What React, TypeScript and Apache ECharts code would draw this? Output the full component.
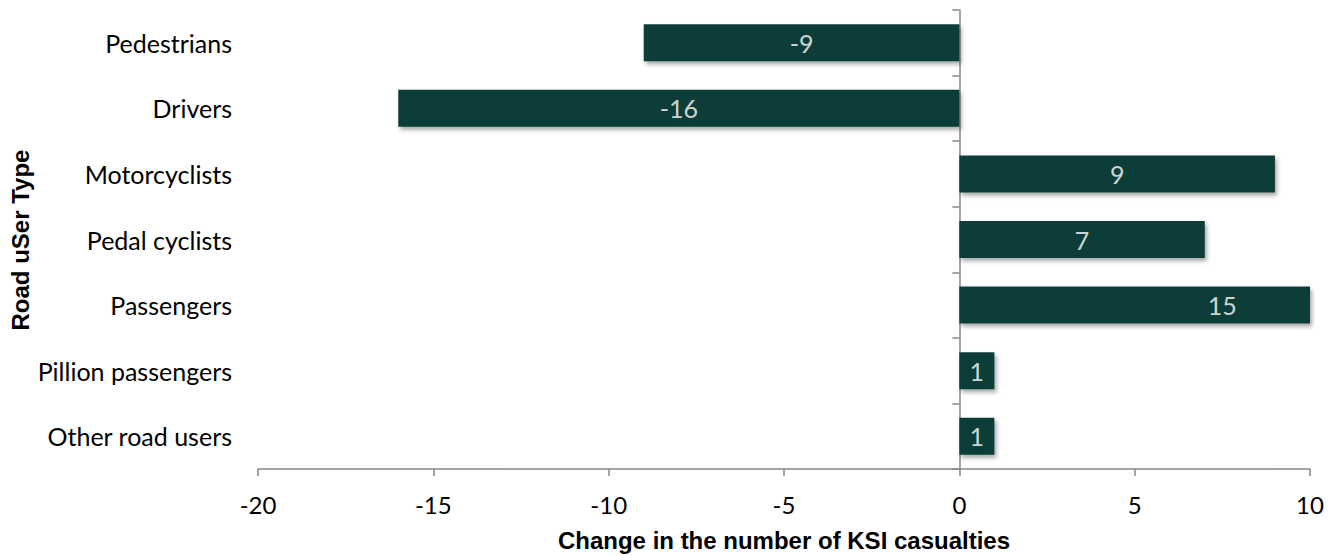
import React, { useEffect, useRef } from "react";
import * as echarts from "echarts";

const categories = [
  "Pedestrians",
  "Drivers",
  "Motorcyclists",
  "Pedal cyclists",
  "Passengers",
  "Pillion passengers",
  "Other road users",
];
const values = [-9, -16, 9, 7, 15, 1, 1];
const xMin = -20;
const xMax = 10;
const xInterval = 5;
const xTitle = "Change in the number of KSI casualties";
const yTitle = "Road uSer Type";

const BAR = "#113d37";
const AXIS = "#878787";
const FONT = "Lato, 'Noto Sans', sans-serif";

export default function App() {
  const ref = useRef<HTMLDivElement>(null);
  useEffect(() => {
    if (!ref.current) return;
    const chart = echarts.init(ref.current, undefined, { renderer: "svg" });
    const grid = { left: 258, right: 28, top: 10, bottom: 87 };
    chart.setOption({
      animation: false,
      grid,
      xAxis: {
        type: "value",
        min: xMin,
        max: xMax,
        interval: xInterval,
        splitLine: { show: false },
        axisLine: { show: true, onZero: false, lineStyle: { color: AXIS, width: 1.5 } },
        axisTick: { show: true, length: 7, lineStyle: { color: AXIS, width: 1.5 } },
        axisLabel: { color: "#000", fontSize: 24, fontFamily: FONT, margin: 23 },
      },
      yAxis: [
        {
          type: "category",
          data: categories,
          inverse: true,
          position: "left",
          axisLine: { show: false, onZero: false },
          axisTick: { show: false },
          axisLabel: { color: "#000", fontSize: 25, fontFamily: FONT, margin: 26 },
        },
        {
          type: "category",
          data: categories,
          inverse: true,
          position: "left",
          axisLine: { show: true, onZero: true, lineStyle: { color: AXIS, width: 1.5 } },
          axisTick: { show: true, length: 7, lineStyle: { color: AXIS, width: 1.5 } },
          axisLabel: { show: false },
        },
      ],
      series: [
        {
          type: "bar",
          data: values,
          yAxisIndex: 0,
          barWidth: 37,
          itemStyle: {
            color: BAR,
            shadowBlur: 4,
            shadowOffsetX: 2,
            shadowOffsetY: 3,
            shadowColor: "rgba(0,0,0,0.35)",
          },
          z: 1,
        },
        {
          type: "scatter",
          yAxisIndex: 0,
          data: values.map((v, i) => [v / 2, i, v]),
          symbolSize: 1,
          itemStyle: { color: "transparent" },
          label: {
            show: true,
            position: "inside",
            color: "#fff",
            fontSize: 25,
            fontFamily: FONT,
            formatter: (p: any) => String(p.value[2]),
          },
          z: 5,
        },
      ],
      graphic: [
        {
          type: "text",
          x: 784,
          y: 540,
          style: {
            text: xTitle,
            font: "bold 24px 'Liberation Sans', Arial, sans-serif",
            fill: "#000",
            textAlign: "center",
            textVerticalAlign: "middle",
          },
        },
        {
          type: "text",
          x: 20,
          y: 240,
          rotation: Math.PI / 2,
          style: {
            text: yTitle,
            font: "bold 24px 'Liberation Sans', Arial, sans-serif",
            fill: "#000",
            textAlign: "center",
            textVerticalAlign: "middle",
          },
        },
      ],
    });
    return () => chart.dispose();
  }, []);
  return (
    <div
      ref={ref}
      style={{ position: "absolute", left: 0, top: 0, width: 1338, height: 556, background: "#fff" }}
    />
  );
}
